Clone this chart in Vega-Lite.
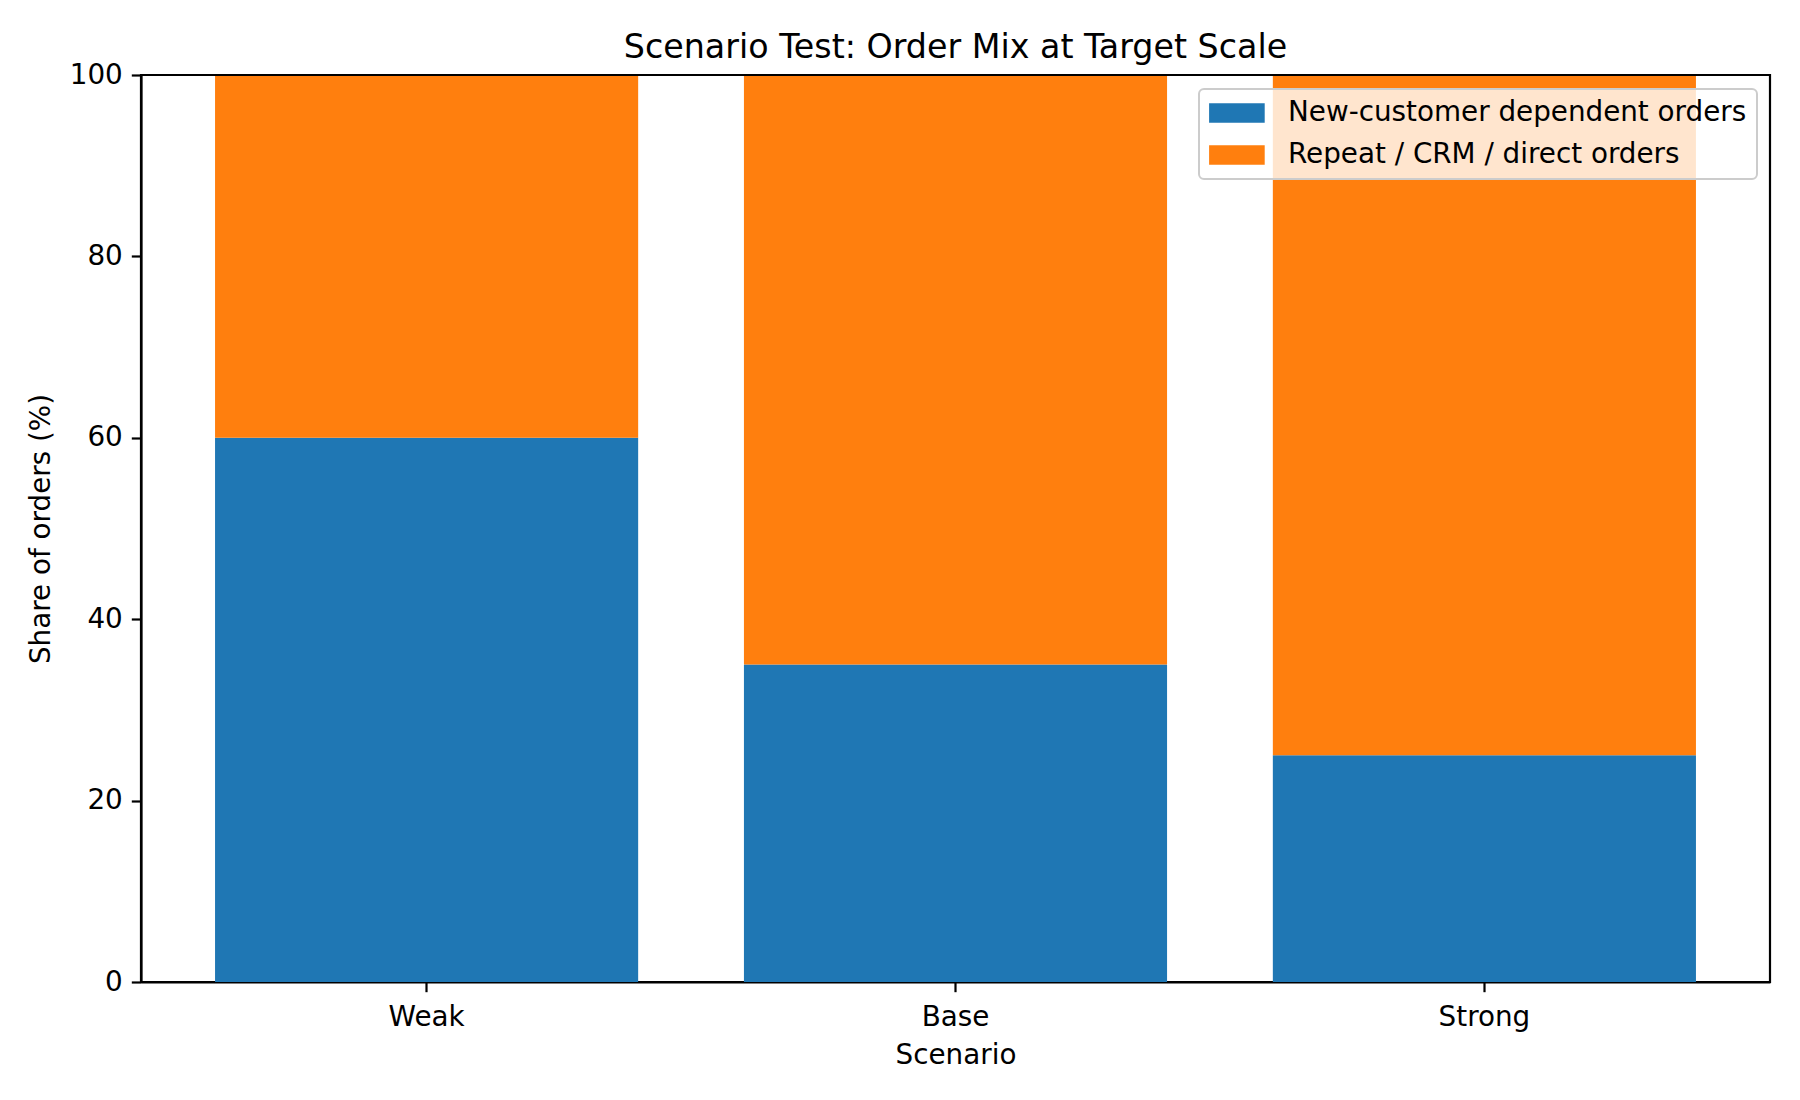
{
  "$schema": "https://vega.github.io/schema/vega-lite/v6.json",
  "width": 1629,
  "height": 907,
  "autosize": "none",
  "padding": {"left": 141, "top": 75, "right": 30, "bottom": 118},
  "background": "white",
  "title": {
    "text": "Scenario Test: Order Mix at Target Scale",
    "font": "DejaVu Sans",
    "fontSize": 33.3,
    "fontWeight": "normal",
    "color": "black",
    "anchor": "middle",
    "offset": -4
  },
  "data": {
    "values": [
      {"scenario": "Weak", "segment": "New-customer dependent orders", "k": 1, "share": 60},
      {"scenario": "Weak", "segment": "Repeat / CRM / direct orders", "k": 2, "share": 40},
      {"scenario": "Base", "segment": "New-customer dependent orders", "k": 1, "share": 35},
      {"scenario": "Base", "segment": "Repeat / CRM / direct orders", "k": 2, "share": 65},
      {"scenario": "Strong", "segment": "New-customer dependent orders", "k": 1, "share": 25},
      {"scenario": "Strong", "segment": "Repeat / CRM / direct orders", "k": 2, "share": 75}
    ]
  },
  "layer": [
    {
      "mark": {"type": "bar"},
      "encoding": {
        "x": {
          "field": "scenario",
          "type": "nominal",
          "sort": ["Weak", "Base", "Strong"],
          "title": "Scenario",
          "scale": {"paddingInner": 0.2, "paddingOuter": 0.14}
        },
        "y": {
          "field": "share",
          "type": "quantitative",
          "stack": "zero",
          "title": "Share of orders (%)",
          "scale": {"domain": [0, 100], "nice": false},
          "axis": {"values": [0, 20, 40, 60, 80, 100]}
        },
        "color": {
          "field": "segment",
          "type": "nominal",
          "scale": {
            "domain": ["New-customer dependent orders", "Repeat / CRM / direct orders"],
            "range": ["#1f77b4", "#ff7f0e"]
          },
          "legend": {
            "orient": "none",
            "legendX": 1058,
            "legendY": 14,
            "title": null,
            "symbolType": "M-1,-0.7H3V0.7H-1Z",
            "symbolSize": 773,
            "symbolStrokeWidth": 0,
            "symbolOpacity": 1,
            "labelFont": "DejaVu Sans",
            "labelFontSize": 27.8,
            "labelColor": "black",
            "labelLimit": 0,
            "labelOffset": 51,
            "rowPadding": 14,
            "padding": 10,
            "fillColor": "rgba(255,255,255,0.8)",
            "strokeColor": "#cccccc",
            "cornerRadius": 5
          }
        },
        "order": {"field": "k", "type": "quantitative"}
      }
    },
    {
      "mark": {"type": "rule", "color": "black", "strokeWidth": 2.2},
      "encoding": {"y": {"datum": 100}}
    }
  ],
  "config": {
    "font": "DejaVu Sans",
    "view": {"stroke": "black", "strokeWidth": 2.2},
    "legend": {"strokeWidth": 2},
    "axis": {
      "grid": false,
      "zindex": 1,
      "domainColor": "black",
      "domainWidth": 2.2,
      "tickColor": "black",
      "tickWidth": 2.2,
      "tickSize": 9.7,
      "labelFont": "DejaVu Sans",
      "labelFontSize": 27.8,
      "labelColor": "black",
      "labelPadding": 9,
      "titleFont": "DejaVu Sans",
      "titleFontSize": 27.8,
      "titleFontWeight": "normal",
      "titleColor": "black"
    },
    "axisX": {"labelAngle": 0, "labelPadding": 12, "titlePadding": 10},
    "axisY": {"titlePadding": 14, "labelPadding": 9}
  }
}
